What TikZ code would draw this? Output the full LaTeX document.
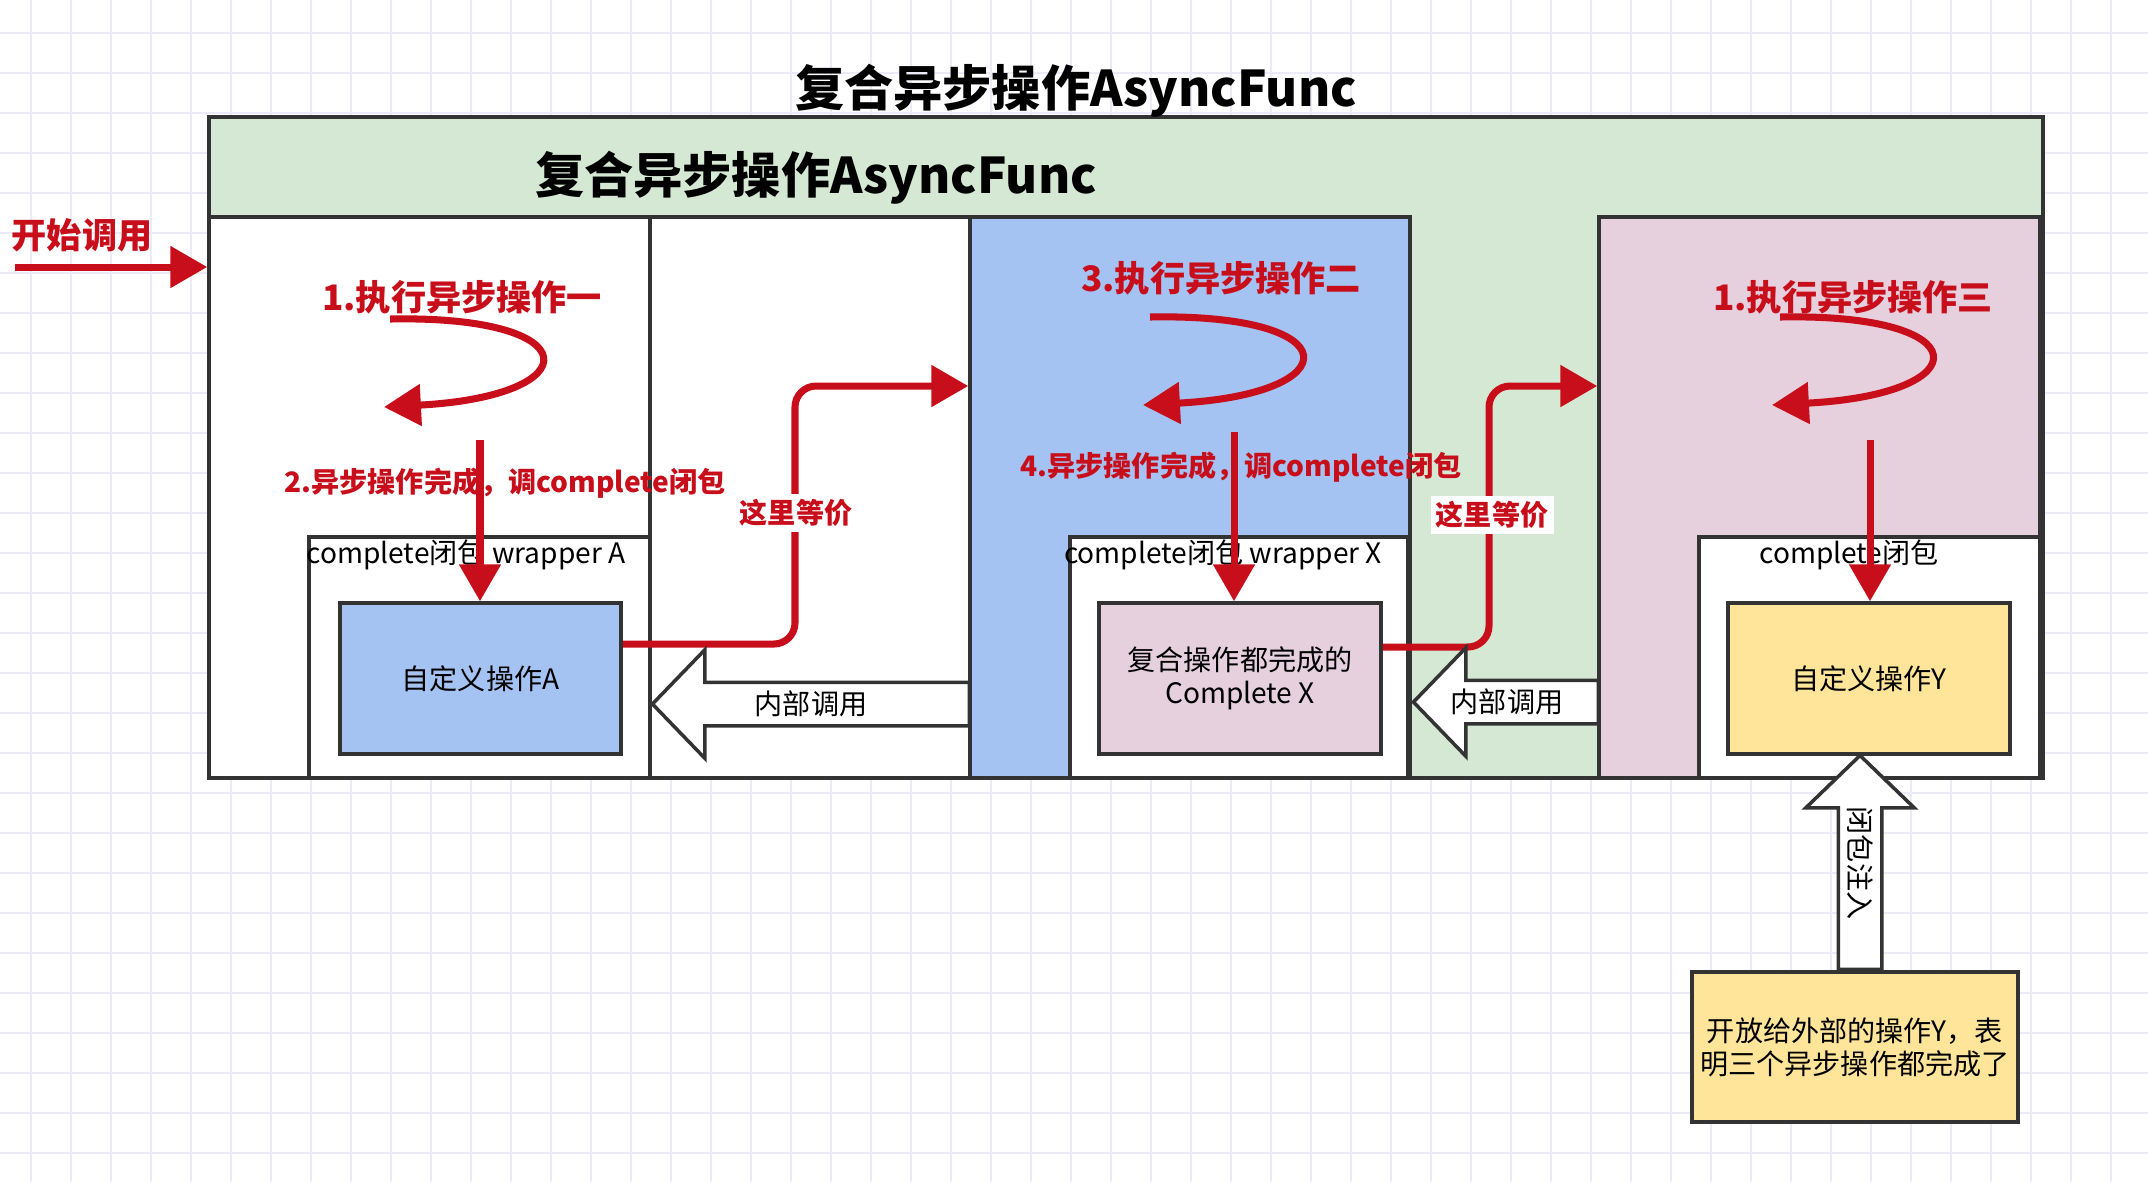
\documentclass[tikz,border=0pt]{standalone}
\usepackage{fontspec}
\setmainfont{Noto Sans CJK SC}
\usepackage{tikz}
\usetikzlibrary{arrows.meta,positioning,calc,shapes.arrows}
\definecolor{cGreenF}{HTML}{D5E8D4}
\definecolor{cBlueF}{HTML}{A4C2F2}
\definecolor{cPinkF}{HTML}{E6D0DE}
\definecolor{cYellowF}{HTML}{FFE599}
\definecolor{cLineD}{HTML}{333333}
\definecolor{cRedT}{HTML}{C80E1A}
\definecolor{cGridL}{HTML}{EBEBF8}
\tikzset{
  wbox/.style   = {draw=cLineD, line width=1pt, inner sep=0pt, fill=white,
                   align=center},
  gbox/.style   = {wbox, fill=cGreenF},
  bbox/.style   = {wbox, fill=cBlueF},
  pbox/.style   = {wbox, fill=cPinkF},
  ybox/.style   = {wbox, fill=cYellowF},
  bigtitle/.style = {font=\bfseries\fontsize{14}{17}\selectfont, inner sep=0pt},
  redbig/.style = {text=cRedT, font=\bfseries\fontsize{10}{12}\selectfont, inner sep=0pt},
  redsm/.style  = {text=cRedT, font=\bfseries\fontsize{8}{9.6}\selectfont, inner sep=0pt},
  eqlbl/.style  = {redsm, fill=white, inner sep=1.5pt},
  plain/.style  = {inner sep=0pt},
  redarr/.style = {cRedT, line width=2pt, -{Triangle[length=10.5pt,width=11.5pt]}},
  hollow/.style = {single arrow, draw=cLineD, fill=white, line width=1pt,
                   inner sep=0pt, text height=0.40cm, text depth=0pt,
                   single arrow head extend=0.325cm, single arrow tip angle=92,
                   single arrow head indent=0pt},
  gridln/.style = {cGridL, line width=0.6pt},
}
\begin{document}
\begin{tikzpicture}[font=\fontsize{8}{9.4}\selectfont]
  \useasboundingbox (0,0) rectangle (21.48,-11.82);
  \fill[white] (0,0) rectangle (21.48,-11.82);
  % grid paper
  \begin{scope}[shift={(0.31,-0.33)}]
    \draw[gridln, step=0.4] (-0.31,-11.49) grid (21.17,0.33);
  \end{scope}

  % outer frame and its panes
  \node[gbox, minimum width=18.34cm, minimum height=6.61cm] (outer) at (11.26,-4.475) {};
  \node[bigtitle] (title) at (10.76,-0.91) {复合异步操作AsyncFunc};
  \node[bigtitle] (head) at (8.16,-1.78) {复合异步操作AsyncFunc};
  \node[wbox, minimum width=4.41cm, minimum height=5.61cm] (left) at (4.295,-4.975) {};
  \node[wbox, minimum width=3.20cm, minimum height=5.61cm] (mid) at (8.10,-4.975) {};
  \node[bbox, minimum width=4.40cm, minimum height=5.61cm] (stage2) at (11.90,-4.975) {};
  \node[pbox, minimum width=4.41cm, minimum height=5.61cm] (stage3) at (18.195,-4.975) {};

  % complete wrappers
  \node[wbox, minimum width=3.41cm, minimum height=2.41cm] (wrapA) at (4.795,-6.575) {};
  \node[wbox, minimum width=3.38cm, minimum height=2.41cm] (wrapX) at (12.39,-6.575) {};
  \node[wbox, minimum width=3.41cm, minimum height=2.41cm] (wrapY) at (18.695,-6.575) {};
  \node[plain] (wrapAtxt) at (4.66,-5.545) {complete闭包 wrapper A};
  \node[plain] (wrapXtxt) at (12.23,-5.545) {complete闭包 wrapper X};
  \node[plain] (wrapYtxt) at (18.49,-5.55) {complete闭包};
  \node[bbox, minimum width=2.81cm, minimum height=1.51cm] (opA) at (4.805,-6.785) {自定义操作A};
  \node[pbox, minimum width=2.82cm, minimum height=1.51cm] (opX) at (12.40,-6.785) {复合操作都完成的\\Complete X};
  \node[ybox, minimum width=2.82cm, minimum height=1.51cm] (opY) at (18.69,-6.785) {自定义操作Y};
  \node[ybox, minimum width=3.26cm, minimum height=1.50cm] (outY) at (18.55,-10.47) {开放给外部的操作Y，表\\明三个异步操作都完成了};

  % red steps
  \node[redbig] (go) at (0.82,-2.35) {开始调用};
  \node[redbig] (s1) at (4.62,-2.97) {1.执行异步操作一};
  \node[redsm] (s2) at (5.05,-4.83) {2.异步操作完成，调complete闭包};
  \node[redbig] (s3) at (12.21,-2.78) {3.执行异步操作二};
  \node[redsm] (s4) at (12.41,-4.67) {4.异步操作完成，调complete闭包};
  \node[redbig] (s5) at (18.53,-2.97) {1.执行异步操作三};

  \coordinate (goL) at (0.15,-2.67);
  \draw[redarr] (goL) -- (goL -| left.west);

  % async loops
  \coordinate (l1a) at (3.90,-3.19);  \coordinate (l1b) at (3.84,-4.07);
  \draw[redarr] (l1a) .. controls (5.90,-3.15) and (5.90,-3.96) .. (l1b);
  \coordinate (l2a) at (11.50,-3.17); \coordinate (l2b) at (11.43,-4.05);
  \draw[redarr] (l2a) .. controls (13.50,-3.13) and (13.50,-3.94) .. (l2b);
  \coordinate (l3a) at (17.80,-3.17); \coordinate (l3b) at (17.72,-4.05);
  \draw[redarr] (l3a) .. controls (19.80,-3.13) and (19.80,-3.94) .. (l3b);

  % done -> complete
  \coordinate (d2) at (4.80,-4.40);
  \draw[redarr] (d2) -- (d2 |- opA.north);
  \coordinate (d4) at (12.34,-4.32);
  \draw[redarr] (d4) -- (d4 |- opX.north);
  \coordinate (d6) at (18.70,-4.40);
  \draw[redarr] (d6) -- (d6 |- opY.north);

  % equivalence jumps
  \coordinate (eqAlo) at (7.95,-6.44);
  \coordinate (eqAhi) at (7.95,-3.86);
  \draw[redarr, rounded corners=6pt] (eqAlo -| opA.east) -- (eqAlo) -- (eqAhi) -- (eqAhi -| stage2.west);
  \node[eqlbl] (eqA) at (7.96,-5.13) {这里等价};
  \coordinate (eqXlo) at (14.89,-6.47);
  \coordinate (eqXhi) at (14.89,-3.86);
  \draw[redarr, rounded corners=6pt] (eqXlo -| opX.east) -- (eqXlo) -- (eqXhi) -- (eqXhi -| stage3.west);
  \node[eqlbl] (eqX) at (14.92,-5.15) {这里等价};

  % inner calls and injection
  \node[hollow, shape border rotate=180, minimum height=3.17cm, anchor=tip] (callA) at (6.50,-7.04) {};
  \node[plain] (callAtxt) at (8.11,-7.04) {内部调用};
  \node[hollow, shape border rotate=180, minimum height=1.85cm, anchor=tip] (callX) at (14.11,-7.02) {};
  \node[plain] (callXtxt) at (15.07,-7.02) {内部调用};
  \node[hollow, rotate=-90, shape border rotate=180, minimum height=2.14cm, anchor=tip] (inject) at (18.60,-7.53) {};
  \node[plain, rotate=-90] (injecttxt) at (18.60,-8.63) {闭包注入};
\end{tikzpicture}
\end{document}
